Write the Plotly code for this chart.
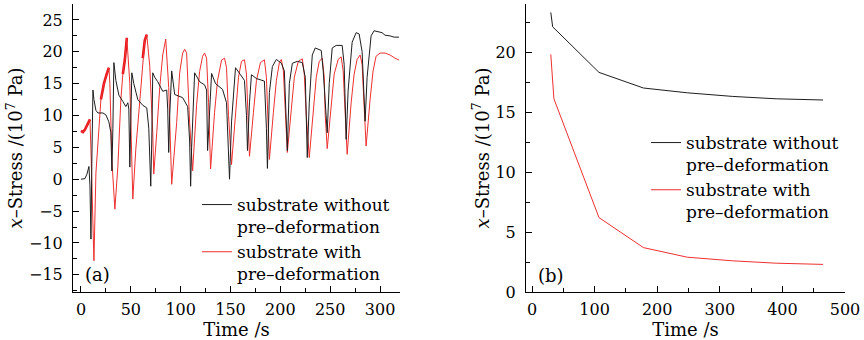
import plotly.graph_objects as go

# ---------------- data: panel (a) ----------------
black_t = [0, 4, 6, 8, 9, 10, 11, 12, 13, 15, 17, 22, 25, 28, 30, 31, 32, 33, 35, 38, 42, 45, 47, 48,
           49, 50, 51, 53, 57, 62, 66, 68, 70, 71, 72, 74, 77, 82, 86, 87, 88, 89, 91, 94, 102, 107,
           109, 110, 111, 114, 119, 124, 126, 127, 129, 131, 135, 142, 146, 148, 149, 151, 155, 160,
           164, 166, 167, 169, 171, 176, 184, 186, 187, 189, 192, 196, 201, 204, 206, 207, 209, 212,
           217, 222, 225, 227, 229, 232, 235, 241, 243, 245, 247, 249, 252, 256, 262, 264, 266, 268,
           272, 276, 279, 282, 285, 287, 291, 294, 298, 302, 305, 310, 314, 319]
black_v = [0, 0.1, 0.8, 2, -1, -9.4, 4, 14, 12.5, 10.8, 10.4, 10.4, 10.1, 9, 7.3, 1.3, 8, 18.3, 15.5,
           13.2, 12.2, 11.4, 12, 11, 1.9, 8, 16.7, 15, 12.5, 11.6, 11.2, 8, -1.1, 6, 16.7, 16, 15.3,
           13.8, 14, 11, 4.2, 10, 17, 13.3, 12.8, 11.4, 6, -1.1, 5, 16.7, 15.3, 14.8, 14, 4.5, 10,
           16.6, 15, 14.1, 12, 5, 0, 9, 17.5, 16.4, 15.5, 10, 4.5, 12, 16.4, 15.8, 15.4, 8, 1.7, 13.6,
           17.7, 18.8, 18.2, 17, 10, 4.5, 15, 18.2, 18.5, 18.3, 16, 3.4, 12, 19.5, 20.6, 20.2, 17,
           12, 7.3, 15, 20.6, 21, 21, 18, 6.25, 14, 21.5, 23, 22.8, 20, 9.1, 16, 22.5, 23.3, 23.2, 23,
           22.6, 22.5, 22.3, 22.3]

red_t = [0, 2, 4, 6, 8, 9, 10, 12, 13, 15, 18, 20, 23, 26, 28, 29, 31, 34, 37, 40, 42, 44, 46, 49,
         51, 52, 55, 59, 62, 64, 66, 69, 72, 73, 76, 79, 82, 85, 88, 90, 91, 96, 99, 102, 104, 106,
         109, 112, 116, 119, 122, 124, 126, 128, 130, 134, 137, 141, 144, 146, 148, 151, 155, 158,
         161, 164, 166, 167, 169, 173, 176, 180, 184, 186, 187, 189, 193, 196, 199, 201, 203, 205,
         207, 211, 214, 218, 222, 224, 226, 229, 233, 236, 239, 242, 244, 245, 247, 251, 254, 258,
         261, 263, 265, 267, 271, 274, 277, 280, 282, 284, 286, 290, 293, 296, 300, 305, 310, 315, 319]
red_v = [7.6, 7.4, 7.8, 8.4, 9.0, 9.4, 4.7, -8.3, -12.8, 1, 8.3, 12.5, 15, 16.6, 17.5, 15, 3, -4.7,
         2, 12.5, 16.5, 18.75, 22.2, 15, 2, -3.1, 4.7, 12.5, 19, 21.8, 22.7, 17.7, 7.3, 0.8, 7.3,
         14.4, 19.5, 22, 14.4, 3.9, -0.8, 8.9, 16.7, 19.8, 20.4, 19.8, 8.9, 1.3, 11.7, 16.9, 19.3,
         19.8, 19, 12, 1.6, 10.5, 15.5, 18.7, 19, 17.5, 10, 2.3, 11, 16, 18.5, 18.75, 16.5, 11, 3.6,
         10.5, 15.5, 18.3, 18.75, 16, 11, 3.1, 10.5, 15.5, 18.3, 18.8, 17, 10, 4.2, 11, 16, 18.5,
         18.9, 16.5, 10, 3.4, 11, 16, 18.5, 19, 16, 10, 4.8, 12, 16.5, 18.8, 19.2, 17, 10, 3.9, 12,
         16.5, 18.8, 19.5, 18, 11, 5.2, 12.5, 17, 19.3, 19.8, 19.8, 19.5, 19.0, 18.7]

# time windows where the red curve is a dense (thick) band
red_dense_windows = [(0, 9), (20, 28), (42, 46), (62, 66)]

# ---------------- data: panel (b) ----------------
b_black_t = [30, 33, 107, 178, 248, 320, 390, 465]
b_black_v = [23.3, 22.1, 18.3, 17.0, 16.6, 16.3, 16.1, 16.0]
b_red_t = [30, 35, 107, 178, 248, 320, 390, 465]
b_red_v = [19.8, 16.1, 6.2, 3.7, 2.9, 2.6, 2.4, 2.3]

name_black = "substrate without<br>pre–deformation"
name_red = "substrate with<br>pre–deformation"
ytitle = "<i>x</i>–Stress /(10<sup>7</sup> Pa)"

BLACK = "#1e1e1e"
RED = "#ee3030"
RED_DENSE = "#e8121a"
FONT = "DejaVu Serif"

dense_v = [v if any(a <= t <= b for a, b in red_dense_windows) else None
           for t, v in zip(red_t, red_v)]

fig = go.Figure()
fig.add_trace(go.Scatter(x=red_t, y=dense_v, mode="lines", line=dict(color=RED_DENSE, width=2.6),
                         showlegend=False, hoverinfo="skip", xaxis="x", yaxis="y", connectgaps=False))
fig.add_trace(go.Scatter(x=red_t, y=red_v, mode="lines", line=dict(color=RED, width=1),
                         name=name_red, xaxis="x", yaxis="y", legend="legend"))
fig.add_trace(go.Scatter(x=black_t, y=black_v, mode="lines", line=dict(color=BLACK, width=1),
                         name=name_black, xaxis="x", yaxis="y", legend="legend"))
fig.add_trace(go.Scatter(x=b_black_t, y=b_black_v, mode="lines", line=dict(color=BLACK, width=1),
                         name=name_black, xaxis="x2", yaxis="y2", legend="legend2"))
fig.add_trace(go.Scatter(x=b_red_t, y=b_red_v, mode="lines", line=dict(color=RED, width=1),
                         name=name_red, xaxis="x2", yaxis="y2", legend="legend2"))

W, H = 864, 340
def px(x):
    return x / W
def py(y):
    return 1 - y / H

axis_common = dict(showline=True, linecolor="black", linewidth=1, ticks="inside", ticklen=6,
                   tickcolor="black", tickwidth=1, showgrid=False, zeroline=False,
                   tickfont=dict(family=FONT, size=16, color="black"), mirror=False,
                   title_font=dict(family=FONT, size=18, color="black"), automargin=False)
minor_common = dict(ticks="inside", ticklen=4, tickcolor="black")

fig.update_layout(
    width=W, height=H, margin=dict(l=0, r=0, t=0, b=0),
    paper_bgcolor="white", plot_bgcolor="white",
    font=dict(family=FONT, color="black"),
    xaxis=dict(domain=[px(73), px(400)], range=[-8, 320], anchor="y", tickvals=[0, 50, 100, 150, 200, 250, 300],
               minor=dict(dtick=25, tick0=0, **minor_common), ticklabelstandoff=3,
               title=dict(text="Time /s", standoff=2), **axis_common),
    yaxis=dict(domain=[py(292), py(4)], range=[-17.7, 27.5], anchor="x", dtick=5, tick0=0,
               minor=dict(dtick=2.5, tick0=0, **minor_common), ticklabelstandoff=6,
               title=dict(text=ytitle, standoff=1), **axis_common),
    xaxis2=dict(domain=[px(526), px(845)], range=[-9.6, 500], anchor="y2", dtick=100, tick0=0,
                minor=dict(dtick=50, tick0=0, **minor_common), ticklabelstandoff=3,
                title=dict(text="Time /s", standoff=2), **axis_common),
    yaxis2=dict(domain=[py(292), py(4)], range=[0, 24], anchor="x2", dtick=5, tick0=0,
                minor=dict(dtick=2.5, tick0=0, **minor_common), ticklabelstandoff=6,
                title=dict(text=ytitle, standoff=1), **axis_common),
    legend=dict(x=px(197), y=py(187), xanchor="left", yanchor="top", bgcolor="rgba(0,0,0,0)",
                font=dict(family=FONT, size=17, color="black"), valign="top", tracegroupgap=0,
                traceorder="reversed"),
    legend2=dict(x=px(646), y=py(125), xanchor="left", yanchor="top", bgcolor="rgba(0,0,0,0)",
                 font=dict(family=FONT, size=17, color="black"), valign="top", tracegroupgap=0),
    annotations=[
        dict(text="(a)", xref="paper", yref="paper", x=px(83), y=py(274), xanchor="left",
             yanchor="middle", showarrow=False, font=dict(family=FONT, size=18, color="black")),
        dict(text="(b)", xref="paper", yref="paper", x=px(536), y=py(275), xanchor="left",
             yanchor="middle", showarrow=False, font=dict(family=FONT, size=18, color="black")),
    ],
)

fig.write_html("out.html", config={"displayModeBar": False},
               post_script="document.body.style.margin='0';")
